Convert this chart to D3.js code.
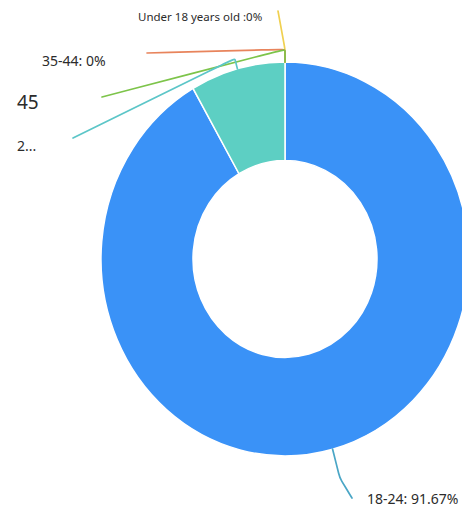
<!DOCTYPE html>
<html>
<head>
<meta charset="utf-8">
<script src="https://cdn.jsdelivr.net/npm/d3@7"></script>
<style>
  html, body { margin: 0; padding: 0; background: #fff; }
  svg { display: block; }
  text { font-family: "Noto Sans", "Open Sans", sans-serif; fill: #2b2b2b; }
</style>
</head>
<body>
<svg id="chart" width="462" height="513"></svg>
<script>
// ---- data ----
const categories = ["18-24", "25-34", "45+", "35-44", "Under 18 years old"];
const values = [91.67, 8.33, 0, 0, 0];
const colors = ["#3a92f7", "#5dcfc3", "#82c84f", "#ec8a60", "#f3d34e"];
const lineColors = ["#4aa6c6", "#5cc6c8", "#7dc44a", "#e8845c", "#f0d050"];
const labelTexts = ["18-24: 91.67%", "2...", "45", "35-44: 0%", "Under 18 years old :0%"];

// ---- layout ----
const W = 462, H = 513;
const CX = 285, CY = 259, R_OUT = 184, R_IN = 92, SY = 1.07;
const lineLen = [28, 10, 12, 12, 12];
const lineEnd = [[352, 498], [73, 138], [102, 97], [147, 53], [278, 11]];
const textPos = [
  { x: 367, y: 498, size: 14 },
  { x: 17, y: 145, size: 14 },
  { x: 17, y: 102, size: 19 },
  { x: 42, y: 60, size: 14 },
  { x: 138, y: 16, size: 11.5 }
];

const svg = d3.select("#chart");

const pie = d3.pie().sort(null).value(d => d.value)
  .startAngle(0).endAngle(2 * Math.PI);
const data = categories.map((c, i) => ({ cat: c, value: values[i], i }));
const arcs = pie(data);

const arc = d3.arc().innerRadius(R_IN).outerRadius(R_OUT);

const g = svg.append("g")
  .attr("transform", `translate(${CX},${CY}) scale(1,${SY})`);

g.selectAll("path.slice")
  .data(arcs.filter(a => a.data.value > 0))
  .join("path")
  .attr("class", "slice")
  .attr("d", arc)
  .attr("fill", d => colors[d.data.i])
  .attr("stroke", "#fff")
  .attr("stroke-width", 1.5)
  .attr("vector-effect", "non-scaling-stroke");

function pt(angle, r) {
  return [CX + r * Math.sin(angle), CY - r * Math.cos(angle) * SY];
}

const lineGen = d3.line().curve(d3.curveBasis);

const order = arcs.map((a, i) => i).reverse();
order.forEach(i => {
  const a = arcs[i];
  const mid = (a.startAngle + a.endAngle) / 2;
  const p0 = pt(mid, R_OUT);
  const p1 = pt(mid, R_OUT + lineLen[i]);
  const p2 = lineEnd[i];
  const pts = [p0, p1, p1, p2];
  svg.append("path")
    .attr("d", lineGen(pts))
    .attr("fill", "none")
    .attr("stroke", lineColors[i])
    .attr("stroke-width", 1.7)
    .attr("stroke-linecap", "round");
});

labelTexts.forEach((t, i) => {
  svg.append("text")
    .attr("x", textPos[i].x)
    .attr("y", textPos[i].y)
    .attr("dominant-baseline", "central")
    .attr("font-size", textPos[i].size)
    .text(t);
});
</script>
</body>
</html>
